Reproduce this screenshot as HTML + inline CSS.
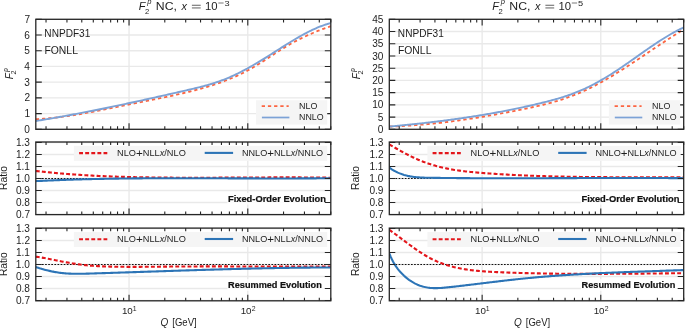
<!DOCTYPE html>
<html><head><meta charset="utf-8"><style>
html,body{margin:0;padding:0;background:#fff;}
body{width:685px;height:328px;overflow:hidden;}
</style></head><body>
<svg width="685" height="328" viewBox="0 0 685 328" style="display:block;will-change:transform">
<rect width="685" height="328" fill="#fff"/>
<g style="font-family:'Liberation Sans', sans-serif;font-kerning:none">
<clipPath id="clipLtop"><rect x="35.80" y="19.30" width="295.00" height="110.00"/></clipPath>
<path d="M35.80,129.30H330.80 M35.80,113.59H330.80 M35.80,97.87H330.80 M35.80,82.16H330.80 M35.80,66.44H330.80 M35.80,50.73H330.80 M35.80,35.01H330.80 M35.80,19.30H330.80 M129.04,19.30V129.30 M247.79,19.30V129.30" stroke="#e9e9e9" stroke-width="1.35" fill="none"/>
<g clip-path="url(#clipLtop)">
<path d="M35.80,119.17 L37.03,119.11 L38.27,119.05 L39.50,118.98 L40.74,118.91 L41.97,118.83 L43.21,118.75 L44.44,118.66 L45.67,118.56 L46.91,118.46 L48.14,118.35 L49.38,118.24 L50.61,118.12 L51.85,118.00 L53.08,117.88 L54.31,117.74 L55.55,117.61 L56.78,117.47 L58.02,117.32 L59.25,117.17 L60.49,117.02 L61.72,116.86 L62.95,116.70 L64.19,116.53 L65.42,116.36 L66.66,116.18 L67.89,116.01 L69.13,115.82 L70.36,115.64 L71.59,115.45 L72.83,115.26 L74.06,115.06 L75.30,114.86 L76.53,114.66 L77.77,114.45 L79.00,114.24 L80.24,114.03 L81.47,113.82 L82.70,113.60 L83.94,113.38 L85.17,113.16 L86.41,112.94 L87.64,112.71 L88.88,112.48 L90.11,112.25 L91.34,112.02 L92.58,111.79 L93.81,111.55 L95.05,111.31 L96.28,111.07 L97.52,110.83 L98.75,110.59 L99.98,110.35 L101.22,110.10 L102.45,109.86 L103.69,109.61 L104.92,109.36 L106.16,109.11 L107.39,108.86 L108.62,108.61 L109.86,108.36 L111.09,108.11 L112.33,107.86 L113.56,107.61 L114.80,107.35 L116.03,107.10 L117.26,106.85 L118.50,106.60 L119.73,106.35 L120.97,106.09 L122.20,105.84 L123.44,105.59 L124.67,105.34 L125.90,105.09 L127.14,104.84 L128.37,104.59 L129.61,104.35 L130.84,104.10 L132.08,103.85 L133.31,103.61 L134.54,103.36 L135.78,103.11 L137.01,102.87 L138.25,102.62 L139.48,102.38 L140.72,102.13 L141.95,101.89 L143.18,101.64 L144.42,101.40 L145.65,101.15 L146.89,100.91 L148.12,100.66 L149.36,100.41 L150.59,100.17 L151.83,99.92 L153.06,99.67 L154.29,99.42 L155.53,99.17 L156.76,98.92 L158.00,98.67 L159.23,98.41 L160.47,98.16 L161.70,97.90 L162.93,97.64 L164.17,97.38 L165.40,97.12 L166.64,96.86 L167.87,96.60 L169.11,96.33 L170.34,96.06 L171.57,95.80 L172.81,95.52 L174.04,95.25 L175.28,94.98 L176.51,94.70 L177.75,94.42 L178.98,94.14 L180.21,93.85 L181.45,93.57 L182.68,93.28 L183.92,92.99 L185.15,92.69 L186.39,92.39 L187.62,92.09 L188.85,91.79 L190.09,91.49 L191.32,91.18 L192.56,90.86 L193.79,90.55 L195.03,90.23 L196.26,89.91 L197.49,89.58 L198.73,89.25 L199.96,88.91 L201.20,88.57 L202.43,88.23 L203.67,87.88 L204.90,87.52 L206.13,87.16 L207.37,86.80 L208.60,86.43 L209.84,86.05 L211.07,85.66 L212.31,85.27 L213.54,84.88 L214.77,84.47 L216.01,84.06 L217.24,83.64 L218.48,83.22 L219.71,82.79 L220.95,82.35 L222.18,81.90 L223.42,81.44 L224.65,80.98 L225.88,80.50 L227.12,80.02 L228.35,79.53 L229.59,79.03 L230.82,78.52 L232.06,78.00 L233.29,77.47 L234.52,76.93 L235.76,76.38 L236.99,75.82 L238.23,75.25 L239.46,74.67 L240.70,74.07 L241.93,73.47 L243.16,72.85 L244.40,72.23 L245.63,71.59 L246.87,70.94 L248.10,70.28 L249.34,69.60 L250.57,68.91 L251.80,68.21 L253.04,67.50 L254.27,66.77 L255.51,66.03 L256.74,65.28 L257.98,64.52 L259.21,63.75 L260.44,62.97 L261.68,62.19 L262.91,61.40 L264.15,60.60 L265.38,59.80 L266.62,58.99 L267.85,58.18 L269.08,57.37 L270.32,56.56 L271.55,55.75 L272.79,54.94 L274.02,54.13 L275.26,53.33 L276.49,52.53 L277.72,51.73 L278.96,50.95 L280.19,50.16 L281.43,49.39 L282.66,48.62 L283.90,47.87 L285.13,47.12 L286.36,46.39 L287.60,45.66 L288.83,44.95 L290.07,44.25 L291.30,43.56 L292.54,42.87 L293.77,42.20 L295.01,41.54 L296.24,40.89 L297.47,40.25 L298.71,39.61 L299.94,38.99 L301.18,38.38 L302.41,37.77 L303.65,37.17 L304.88,36.59 L306.11,36.01 L307.35,35.44 L308.58,34.88 L309.82,34.33 L311.05,33.79 L312.29,33.25 L313.52,32.73 L314.75,32.21 L315.99,31.70 L317.22,31.20 L318.46,30.70 L319.69,30.21 L320.93,29.74 L322.16,29.26 L323.39,28.80 L324.63,28.34 L325.86,27.89 L327.10,27.45 L328.33,27.01 L329.57,26.58 L330.80,26.16" stroke="#fc6542" stroke-width="1.85" fill="none" stroke-dasharray="3.3 2.9"/>
<path d="M35.80,121.03 L37.03,120.83 L38.27,120.62 L39.50,120.42 L40.74,120.22 L41.97,120.01 L43.21,119.80 L44.44,119.60 L45.67,119.39 L46.91,119.18 L48.14,118.97 L49.38,118.75 L50.61,118.54 L51.85,118.33 L53.08,118.11 L54.31,117.89 L55.55,117.68 L56.78,117.46 L58.02,117.24 L59.25,117.02 L60.49,116.80 L61.72,116.57 L62.95,116.35 L64.19,116.13 L65.42,115.90 L66.66,115.67 L67.89,115.45 L69.13,115.22 L70.36,114.99 L71.59,114.76 L72.83,114.53 L74.06,114.30 L75.30,114.06 L76.53,113.83 L77.77,113.59 L79.00,113.36 L80.24,113.12 L81.47,112.88 L82.70,112.64 L83.94,112.41 L85.17,112.16 L86.41,111.92 L87.64,111.68 L88.88,111.44 L90.11,111.20 L91.34,110.95 L92.58,110.71 L93.81,110.46 L95.05,110.21 L96.28,109.97 L97.52,109.72 L98.75,109.47 L99.98,109.22 L101.22,108.97 L102.45,108.72 L103.69,108.46 L104.92,108.21 L106.16,107.96 L107.39,107.70 L108.62,107.45 L109.86,107.19 L111.09,106.94 L112.33,106.68 L113.56,106.42 L114.80,106.16 L116.03,105.90 L117.26,105.64 L118.50,105.38 L119.73,105.12 L120.97,104.86 L122.20,104.60 L123.44,104.34 L124.67,104.07 L125.90,103.81 L127.14,103.54 L128.37,103.28 L129.61,103.01 L130.84,102.75 L132.08,102.48 L133.31,102.21 L134.54,101.95 L135.78,101.68 L137.01,101.41 L138.25,101.14 L139.48,100.87 L140.72,100.60 L141.95,100.33 L143.18,100.06 L144.42,99.78 L145.65,99.51 L146.89,99.24 L148.12,98.96 L149.36,98.69 L150.59,98.42 L151.83,98.14 L153.06,97.87 L154.29,97.59 L155.53,97.32 L156.76,97.04 L158.00,96.76 L159.23,96.48 L160.47,96.21 L161.70,95.93 L162.93,95.65 L164.17,95.37 L165.40,95.09 L166.64,94.81 L167.87,94.54 L169.11,94.26 L170.34,93.98 L171.57,93.69 L172.81,93.41 L174.04,93.13 L175.28,92.85 L176.51,92.57 L177.75,92.29 L178.98,92.01 L180.21,91.72 L181.45,91.44 L182.68,91.16 L183.92,90.88 L185.15,90.59 L186.39,90.31 L187.62,90.02 L188.85,89.74 L190.09,89.45 L191.32,89.16 L192.56,88.87 L193.79,88.58 L195.03,88.29 L196.26,87.99 L197.49,87.68 L198.73,87.38 L199.96,87.06 L201.20,86.75 L202.43,86.43 L203.67,86.10 L204.90,85.77 L206.13,85.43 L207.37,85.08 L208.60,84.73 L209.84,84.36 L211.07,84.00 L212.31,83.62 L213.54,83.23 L214.77,82.84 L216.01,82.43 L217.24,82.02 L218.48,81.59 L219.71,81.16 L220.95,80.71 L222.18,80.26 L223.42,79.79 L224.65,79.31 L225.88,78.81 L227.12,78.31 L228.35,77.79 L229.59,77.26 L230.82,76.72 L232.06,76.16 L233.29,75.60 L234.52,75.02 L235.76,74.44 L236.99,73.84 L238.23,73.24 L239.46,72.62 L240.70,71.99 L241.93,71.36 L243.16,70.71 L244.40,70.06 L245.63,69.40 L246.87,68.73 L248.10,68.05 L249.34,67.36 L250.57,66.67 L251.80,65.97 L253.04,65.26 L254.27,64.54 L255.51,63.82 L256.74,63.09 L257.98,62.36 L259.21,61.62 L260.44,60.87 L261.68,60.12 L262.91,59.36 L264.15,58.60 L265.38,57.84 L266.62,57.07 L267.85,56.29 L269.08,55.52 L270.32,54.74 L271.55,53.95 L272.79,53.17 L274.02,52.38 L275.26,51.60 L276.49,50.81 L277.72,50.02 L278.96,49.24 L280.19,48.45 L281.43,47.67 L282.66,46.89 L283.90,46.11 L285.13,45.33 L286.36,44.56 L287.60,43.79 L288.83,43.02 L290.07,42.26 L291.30,41.51 L292.54,40.76 L293.77,40.02 L295.01,39.28 L296.24,38.55 L297.47,37.83 L298.71,37.12 L299.94,36.42 L301.18,35.72 L302.41,35.04 L303.65,34.36 L304.88,33.70 L306.11,33.04 L307.35,32.40 L308.58,31.77 L309.82,31.15 L311.05,30.55 L312.29,29.96 L313.52,29.38 L314.75,28.82 L315.99,28.27 L317.22,27.74 L318.46,27.22 L319.69,26.72 L320.93,26.24 L322.16,25.77 L323.39,25.32 L324.63,24.89 L325.86,24.48 L327.10,24.09 L328.33,23.72 L329.57,23.37 L330.80,23.03" stroke="#7ca2d6" stroke-width="1.9" fill="none"/>
</g>
<path d="M35.80,129.30h6.0 M330.80,129.30h-6.0 M35.80,113.59h6.0 M330.80,113.59h-6.0 M35.80,97.87h6.0 M330.80,97.87h-6.0 M35.80,82.16h6.0 M330.80,82.16h-6.0 M35.80,66.44h6.0 M330.80,66.44h-6.0 M35.80,50.73h6.0 M330.80,50.73h-6.0 M35.80,35.01h6.0 M330.80,35.01h-6.0 M35.80,19.30h6.0 M330.80,19.30h-6.0 M46.03,129.30v-3.1 M46.03,19.30v3.1 M66.95,129.30v-3.1 M66.95,19.30v3.1 M81.78,129.30v-3.1 M81.78,19.30v3.1 M93.29,129.30v-3.1 M93.29,19.30v3.1 M102.70,129.30v-3.1 M102.70,19.30v3.1 M110.65,129.30v-3.1 M110.65,19.30v3.1 M117.53,129.30v-3.1 M117.53,19.30v3.1 M123.61,129.30v-3.1 M123.61,19.30v3.1 M129.04,129.30v-6.1 M129.04,19.30v6.1 M164.79,129.30v-3.1 M164.79,19.30v3.1 M185.70,129.30v-3.1 M185.70,19.30v3.1 M200.54,129.30v-3.1 M200.54,19.30v3.1 M212.05,129.30v-3.1 M212.05,19.30v3.1 M221.45,129.30v-3.1 M221.45,19.30v3.1 M229.40,129.30v-3.1 M229.40,19.30v3.1 M236.29,129.30v-3.1 M236.29,19.30v3.1 M242.36,129.30v-3.1 M242.36,19.30v3.1 M247.79,129.30v-6.1 M247.79,19.30v6.1 M283.54,129.30v-3.1 M283.54,19.30v3.1 M304.45,129.30v-3.1 M304.45,19.30v3.1 M319.29,129.30v-3.1 M319.29,19.30v3.1 M330.80,129.30v-3.1 M330.80,19.30v3.1" stroke="#262626" stroke-width="1.1" fill="none"/>
<rect x="35.80" y="19.30" width="295.00" height="110.00" stroke="#262626" stroke-width="1.3" fill="none"/>
<rect x="256.00" y="100.2" width="71.2" height="24.4" fill="#f5f5f5"/>
<path d="M261.70,106.2h27" stroke="#fc6542" stroke-width="1.7" stroke-dasharray="3.3 2.9"/>
<path d="M261.90,117.5h27.5" stroke="#7ca2d6" stroke-width="1.7"/>
<text x="299.07" y="109.00" textLength="18.36" lengthAdjust="spacingAndGlyphs" fill="#1e1e1e"><tspan font-size="8.8">NLO</tspan></text>
<text x="299.08" y="120.40" textLength="24.55" lengthAdjust="spacingAndGlyphs" fill="#1e1e1e"><tspan font-size="8.8">NNLO</tspan></text>
<text x="44.37" y="37.40" textLength="45.92" lengthAdjust="spacingAndGlyphs" fill="#1e1e1e"><tspan font-size="10.3">NNPDF31</tspan></text>
<text x="44.45" y="53.60" textLength="33.50" lengthAdjust="spacingAndGlyphs" fill="#1e1e1e"><tspan font-size="10.3">FONLL</tspan></text>
<text x="24.28" y="132.85" fill="#1e1e1e"><tspan font-size="10.1">0</tspan></text>
<text x="24.38" y="117.14" fill="#1e1e1e"><tspan font-size="10.1">1</tspan></text>
<text x="24.39" y="101.42" fill="#1e1e1e"><tspan font-size="10.1">2</tspan></text>
<text x="24.33" y="85.71" fill="#1e1e1e"><tspan font-size="10.1">3</tspan></text>
<text x="24.18" y="69.99" fill="#1e1e1e"><tspan font-size="10.1">4</tspan></text>
<text x="24.31" y="54.28" fill="#1e1e1e"><tspan font-size="10.1">5</tspan></text>
<text x="24.33" y="38.56" fill="#1e1e1e"><tspan font-size="10.1">6</tspan></text>
<text x="24.39" y="22.85" fill="#1e1e1e"><tspan font-size="10.1">7</tspan></text>
<clipPath id="clipLr1"><rect x="35.80" y="142.00" width="295.00" height="72.60"/></clipPath>
<path d="M35.80,214.50H330.80 M35.80,202.50H330.80 M35.80,190.50H330.80 M35.80,178.50H330.80 M35.80,166.50H330.80 M35.80,154.50H330.80 M35.80,142.50H330.80 M129.04,142.00V214.60 M247.79,142.00V214.60" stroke="#e9e9e9" stroke-width="1.35" fill="none"/>
<rect x="227.30" y="193.00" width="102.50" height="11.6" fill="#fff" fill-opacity="0.85"/>
<g clip-path="url(#clipLr1)">
<path d="M35.80,178.50H330.80" stroke="#111" stroke-width="1.1" stroke-dasharray="1.7 1.4"/>
<path d="M35.80,170.96 L37.03,171.10 L38.27,171.24 L39.50,171.38 L40.74,171.51 L41.97,171.65 L43.21,171.78 L44.44,171.91 L45.67,172.04 L46.91,172.16 L48.14,172.29 L49.38,172.41 L50.61,172.53 L51.85,172.65 L53.08,172.76 L54.31,172.88 L55.55,172.99 L56.78,173.10 L58.02,173.21 L59.25,173.32 L60.49,173.43 L61.72,173.53 L62.95,173.63 L64.19,173.73 L65.42,173.83 L66.66,173.93 L67.89,174.03 L69.13,174.12 L70.36,174.21 L71.59,174.31 L72.83,174.40 L74.06,174.48 L75.30,174.57 L76.53,174.65 L77.77,174.74 L79.00,174.82 L80.24,174.90 L81.47,174.98 L82.70,175.06 L83.94,175.13 L85.17,175.21 L86.41,175.28 L87.64,175.35 L88.88,175.42 L90.11,175.49 L91.34,175.56 L92.58,175.62 L93.81,175.69 L95.05,175.75 L96.28,175.81 L97.52,175.88 L98.75,175.94 L99.98,175.99 L101.22,176.05 L102.45,176.11 L103.69,176.16 L104.92,176.21 L106.16,176.27 L107.39,176.32 L108.62,176.37 L109.86,176.42 L111.09,176.46 L112.33,176.51 L113.56,176.55 L114.80,176.60 L116.03,176.64 L117.26,176.68 L118.50,176.72 L119.73,176.76 L120.97,176.80 L122.20,176.84 L123.44,176.88 L124.67,176.91 L125.90,176.95 L127.14,176.98 L128.37,177.01 L129.61,177.05 L130.84,177.08 L132.08,177.11 L133.31,177.14 L134.54,177.16 L135.78,177.19 L137.01,177.22 L138.25,177.24 L139.48,177.27 L140.72,177.29 L141.95,177.32 L143.18,177.34 L144.42,177.36 L145.65,177.38 L146.89,177.40 L148.12,177.42 L149.36,177.44 L150.59,177.46 L151.83,177.48 L153.06,177.49 L154.29,177.51 L155.53,177.52 L156.76,177.54 L158.00,177.55 L159.23,177.57 L160.47,177.58 L161.70,177.59 L162.93,177.60 L164.17,177.62 L165.40,177.63 L166.64,177.64 L167.87,177.65 L169.11,177.65 L170.34,177.66 L171.57,177.67 L172.81,177.68 L174.04,177.68 L175.28,177.69 L176.51,177.70 L177.75,177.70 L178.98,177.71 L180.21,177.71 L181.45,177.71 L182.68,177.72 L183.92,177.72 L185.15,177.72 L186.39,177.73 L187.62,177.73 L188.85,177.73 L190.09,177.73 L191.32,177.73 L192.56,177.73 L193.79,177.73 L195.03,177.73 L196.26,177.73 L197.49,177.73 L198.73,177.73 L199.96,177.72 L201.20,177.72 L202.43,177.72 L203.67,177.72 L204.90,177.71 L206.13,177.71 L207.37,177.71 L208.60,177.70 L209.84,177.70 L211.07,177.70 L212.31,177.69 L213.54,177.69 L214.77,177.68 L216.01,177.68 L217.24,177.67 L218.48,177.67 L219.71,177.66 L220.95,177.66 L222.18,177.65 L223.42,177.64 L224.65,177.64 L225.88,177.63 L227.12,177.63 L228.35,177.62 L229.59,177.61 L230.82,177.61 L232.06,177.60 L233.29,177.59 L234.52,177.59 L235.76,177.58 L236.99,177.57 L238.23,177.57 L239.46,177.56 L240.70,177.55 L241.93,177.55 L243.16,177.54 L244.40,177.53 L245.63,177.53 L246.87,177.52 L248.10,177.51 L249.34,177.51 L250.57,177.50 L251.80,177.49 L253.04,177.49 L254.27,177.48 L255.51,177.48 L256.74,177.47 L257.98,177.46 L259.21,177.46 L260.44,177.45 L261.68,177.45 L262.91,177.44 L264.15,177.44 L265.38,177.43 L266.62,177.43 L267.85,177.43 L269.08,177.42 L270.32,177.42 L271.55,177.41 L272.79,177.41 L274.02,177.41 L275.26,177.41 L276.49,177.40 L277.72,177.40 L278.96,177.40 L280.19,177.40 L281.43,177.40 L282.66,177.40 L283.90,177.39 L285.13,177.39 L286.36,177.39 L287.60,177.40 L288.83,177.40 L290.07,177.40 L291.30,177.40 L292.54,177.40 L293.77,177.40 L295.01,177.41 L296.24,177.41 L297.47,177.41 L298.71,177.42 L299.94,177.42 L301.18,177.43 L302.41,177.43 L303.65,177.44 L304.88,177.45 L306.11,177.45 L307.35,177.46 L308.58,177.47 L309.82,177.48 L311.05,177.49 L312.29,177.50 L313.52,177.51 L314.75,177.52 L315.99,177.53 L317.22,177.54 L318.46,177.56 L319.69,177.57 L320.93,177.58 L322.16,177.60 L323.39,177.61 L324.63,177.63 L325.86,177.65 L327.10,177.66 L328.33,177.68 L329.57,177.70 L330.80,177.72" stroke="#e3161b" stroke-width="2.1" fill="none" stroke-dasharray="3.9 2.2"/>
<path d="M35.80,181.13 L37.03,181.07 L38.27,181.01 L39.50,180.95 L40.74,180.89 L41.97,180.83 L43.21,180.77 L44.44,180.71 L45.67,180.66 L46.91,180.60 L48.14,180.55 L49.38,180.49 L50.61,180.44 L51.85,180.39 L53.08,180.34 L54.31,180.28 L55.55,180.23 L56.78,180.19 L58.02,180.14 L59.25,180.09 L60.49,180.04 L61.72,180.00 L62.95,179.95 L64.19,179.91 L65.42,179.86 L66.66,179.82 L67.89,179.78 L69.13,179.73 L70.36,179.69 L71.59,179.65 L72.83,179.61 L74.06,179.57 L75.30,179.54 L76.53,179.50 L77.77,179.46 L79.00,179.42 L80.24,179.39 L81.47,179.35 L82.70,179.32 L83.94,179.29 L85.17,179.25 L86.41,179.22 L87.64,179.19 L88.88,179.16 L90.11,179.13 L91.34,179.10 L92.58,179.07 L93.81,179.04 L95.05,179.01 L96.28,178.98 L97.52,178.96 L98.75,178.93 L99.98,178.90 L101.22,178.88 L102.45,178.85 L103.69,178.83 L104.92,178.81 L106.16,178.78 L107.39,178.76 L108.62,178.74 L109.86,178.72 L111.09,178.70 L112.33,178.68 L113.56,178.66 L114.80,178.64 L116.03,178.62 L117.26,178.60 L118.50,178.58 L119.73,178.57 L120.97,178.55 L122.20,178.53 L123.44,178.52 L124.67,178.50 L125.90,178.49 L127.14,178.47 L128.37,178.46 L129.61,178.44 L130.84,178.43 L132.08,178.42 L133.31,178.41 L134.54,178.39 L135.78,178.38 L137.01,178.37 L138.25,178.36 L139.48,178.35 L140.72,178.34 L141.95,178.33 L143.18,178.32 L144.42,178.31 L145.65,178.31 L146.89,178.30 L148.12,178.29 L149.36,178.28 L150.59,178.28 L151.83,178.27 L153.06,178.26 L154.29,178.26 L155.53,178.25 L156.76,178.25 L158.00,178.24 L159.23,178.24 L160.47,178.24 L161.70,178.23 L162.93,178.23 L164.17,178.22 L165.40,178.22 L166.64,178.22 L167.87,178.22 L169.11,178.21 L170.34,178.21 L171.57,178.21 L172.81,178.21 L174.04,178.21 L175.28,178.21 L176.51,178.21 L177.75,178.21 L178.98,178.21 L180.21,178.21 L181.45,178.21 L182.68,178.21 L183.92,178.21 L185.15,178.21 L186.39,178.21 L187.62,178.21 L188.85,178.21 L190.09,178.21 L191.32,178.22 L192.56,178.22 L193.79,178.22 L195.03,178.22 L196.26,178.23 L197.49,178.23 L198.73,178.23 L199.96,178.23 L201.20,178.24 L202.43,178.24 L203.67,178.24 L204.90,178.25 L206.13,178.25 L207.37,178.25 L208.60,178.26 L209.84,178.26 L211.07,178.26 L212.31,178.27 L213.54,178.27 L214.77,178.28 L216.01,178.28 L217.24,178.29 L218.48,178.29 L219.71,178.29 L220.95,178.30 L222.18,178.30 L223.42,178.31 L224.65,178.31 L225.88,178.32 L227.12,178.32 L228.35,178.33 L229.59,178.33 L230.82,178.33 L232.06,178.34 L233.29,178.34 L234.52,178.35 L235.76,178.35 L236.99,178.36 L238.23,178.36 L239.46,178.37 L240.70,178.37 L241.93,178.37 L243.16,178.38 L244.40,178.38 L245.63,178.39 L246.87,178.39 L248.10,178.39 L249.34,178.40 L250.57,178.40 L251.80,178.41 L253.04,178.41 L254.27,178.41 L255.51,178.42 L256.74,178.42 L257.98,178.42 L259.21,178.42 L260.44,178.43 L261.68,178.43 L262.91,178.43 L264.15,178.44 L265.38,178.44 L266.62,178.44 L267.85,178.44 L269.08,178.44 L270.32,178.45 L271.55,178.45 L272.79,178.45 L274.02,178.45 L275.26,178.45 L276.49,178.45 L277.72,178.45 L278.96,178.45 L280.19,178.45 L281.43,178.45 L282.66,178.45 L283.90,178.45 L285.13,178.45 L286.36,178.45 L287.60,178.45 L288.83,178.44 L290.07,178.44 L291.30,178.44 L292.54,178.44 L293.77,178.43 L295.01,178.43 L296.24,178.43 L297.47,178.42 L298.71,178.42 L299.94,178.42 L301.18,178.41 L302.41,178.41 L303.65,178.40 L304.88,178.40 L306.11,178.39 L307.35,178.38 L308.58,178.38 L309.82,178.37 L311.05,178.36 L312.29,178.36 L313.52,178.35 L314.75,178.34 L315.99,178.33 L317.22,178.32 L318.46,178.31 L319.69,178.30 L320.93,178.29 L322.16,178.28 L323.39,178.27 L324.63,178.26 L325.86,178.25 L327.10,178.23 L328.33,178.22 L329.57,178.21 L330.80,178.19" stroke="#2c74b6" stroke-width="2.1" fill="none"/>
</g>
<path d="M35.80,214.50h6.0 M330.80,214.50h-6.0 M35.80,202.50h6.0 M330.80,202.50h-6.0 M35.80,190.50h6.0 M330.80,190.50h-6.0 M35.80,178.50h6.0 M330.80,178.50h-6.0 M35.80,166.50h6.0 M330.80,166.50h-6.0 M35.80,154.50h6.0 M330.80,154.50h-6.0 M35.80,142.50h6.0 M330.80,142.50h-6.0 M46.03,214.60v-3.1 M46.03,142.00v3.1 M66.95,214.60v-3.1 M66.95,142.00v3.1 M81.78,214.60v-3.1 M81.78,142.00v3.1 M93.29,214.60v-3.1 M93.29,142.00v3.1 M102.70,214.60v-3.1 M102.70,142.00v3.1 M110.65,214.60v-3.1 M110.65,142.00v3.1 M117.53,214.60v-3.1 M117.53,142.00v3.1 M123.61,214.60v-3.1 M123.61,142.00v3.1 M129.04,214.60v-6.1 M129.04,142.00v6.1 M164.79,214.60v-3.1 M164.79,142.00v3.1 M185.70,214.60v-3.1 M185.70,142.00v3.1 M200.54,214.60v-3.1 M200.54,142.00v3.1 M212.05,214.60v-3.1 M212.05,142.00v3.1 M221.45,214.60v-3.1 M221.45,142.00v3.1 M229.40,214.60v-3.1 M229.40,142.00v3.1 M236.29,214.60v-3.1 M236.29,142.00v3.1 M242.36,214.60v-3.1 M242.36,142.00v3.1 M247.79,214.60v-6.1 M247.79,142.00v6.1 M283.54,214.60v-3.1 M283.54,142.00v3.1 M304.45,214.60v-3.1 M304.45,142.00v3.1 M319.29,214.60v-3.1 M319.29,142.00v3.1 M330.80,214.60v-3.1 M330.80,142.00v3.1" stroke="#262626" stroke-width="1.1" fill="none"/>
<rect x="35.80" y="142.00" width="295.00" height="72.60" stroke="#262626" stroke-width="1.3" fill="none"/>
<rect x="73.90" y="145.90" width="253.3" height="15.0" fill="#f5f5f5"/>
<path d="M79.10,153.10h28.2" stroke="#e3161b" stroke-width="2.1" stroke-dasharray="3.9 2.2"/>
<path d="M204.70,152.90h28.4" stroke="#2c74b6" stroke-width="2.1"/>
<text x="117.04" y="155.80" textLength="68.80" lengthAdjust="spacingAndGlyphs" fill="#1e1e1e"><tspan font-size="8.4">NLO</tspan><tspan font-size="10.6" dy="1.10">+</tspan><tspan font-size="8.4" dy="-1.10">NLL</tspan><tspan font-style="italic" font-size="8.4">x</tspan><tspan font-size="8.4">/NLO</tspan></text>
<text x="241.95" y="155.80" textLength="81.18" lengthAdjust="spacingAndGlyphs" fill="#1e1e1e"><tspan font-size="8.4">NNLO</tspan><tspan font-size="10.6" dy="1.10">+</tspan><tspan font-size="8.4" dy="-1.10">NLL</tspan><tspan font-style="italic" font-size="8.4">x</tspan><tspan font-size="8.4">/NNLO</tspan></text>
<text x="227.98" y="202.00" textLength="97.90" lengthAdjust="spacingAndGlyphs" fill="#111" stroke="#111" stroke-width="0.22"><tspan font-weight="bold" font-size="9.3">Fixed-Order Evolution</tspan></text>
<text x="15.97" y="218.05" fill="#1e1e1e"><tspan font-size="10.1">0.7</tspan></text>
<text x="15.90" y="206.05" fill="#1e1e1e"><tspan font-size="10.1">0.8</tspan></text>
<text x="15.94" y="194.05" fill="#1e1e1e"><tspan font-size="10.1">0.9</tspan></text>
<text x="15.85" y="182.05" fill="#1e1e1e"><tspan font-size="10.1">1.0</tspan></text>
<text x="15.95" y="170.05" fill="#1e1e1e"><tspan font-size="10.1">1.1</tspan></text>
<text x="15.97" y="158.05" fill="#1e1e1e"><tspan font-size="10.1">1.2</tspan></text>
<text x="15.90" y="146.05" fill="#1e1e1e"><tspan font-size="10.1">1.3</tspan></text>
<clipPath id="clipLr2"><rect x="35.80" y="228.10" width="295.00" height="72.70"/></clipPath>
<path d="M35.80,300.50H330.80 M35.80,288.50H330.80 M35.80,276.50H330.80 M35.80,264.50H330.80 M35.80,252.50H330.80 M35.80,240.50H330.80 M35.80,228.50H330.80 M129.04,228.10V300.80 M247.79,228.10V300.80" stroke="#e9e9e9" stroke-width="1.35" fill="none"/>
<rect x="227.30" y="279.20" width="102.50" height="11.6" fill="#fff" fill-opacity="0.85"/>
<g clip-path="url(#clipLr2)">
<path d="M35.80,264.50H330.80" stroke="#111" stroke-width="1.1" stroke-dasharray="1.7 1.4"/>
<path d="M35.80,256.69 L37.03,256.86 L38.27,257.05 L39.50,257.24 L40.74,257.44 L41.97,257.65 L43.21,257.86 L44.44,258.08 L45.67,258.30 L46.91,258.53 L48.14,258.76 L49.38,259.00 L50.61,259.24 L51.85,259.48 L53.08,259.72 L54.31,259.96 L55.55,260.21 L56.78,260.45 L58.02,260.70 L59.25,260.94 L60.49,261.18 L61.72,261.42 L62.95,261.66 L64.19,261.90 L65.42,262.13 L66.66,262.36 L67.89,262.58 L69.13,262.80 L70.36,263.01 L71.59,263.22 L72.83,263.43 L74.06,263.62 L75.30,263.82 L76.53,264.00 L77.77,264.18 L79.00,264.36 L80.24,264.53 L81.47,264.69 L82.70,264.84 L83.94,264.98 L85.17,265.12 L86.41,265.25 L87.64,265.37 L88.88,265.49 L90.11,265.59 L91.34,265.69 L92.58,265.79 L93.81,265.88 L95.05,265.96 L96.28,266.03 L97.52,266.10 L98.75,266.17 L99.98,266.23 L101.22,266.29 L102.45,266.34 L103.69,266.39 L104.92,266.43 L106.16,266.47 L107.39,266.51 L108.62,266.54 L109.86,266.58 L111.09,266.61 L112.33,266.64 L113.56,266.66 L114.80,266.69 L116.03,266.71 L117.26,266.73 L118.50,266.75 L119.73,266.77 L120.97,266.78 L122.20,266.79 L123.44,266.81 L124.67,266.82 L125.90,266.83 L127.14,266.83 L128.37,266.84 L129.61,266.84 L130.84,266.85 L132.08,266.85 L133.31,266.85 L134.54,266.85 L135.78,266.85 L137.01,266.84 L138.25,266.84 L139.48,266.84 L140.72,266.83 L141.95,266.82 L143.18,266.82 L144.42,266.81 L145.65,266.80 L146.89,266.79 L148.12,266.78 L149.36,266.77 L150.59,266.76 L151.83,266.75 L153.06,266.74 L154.29,266.73 L155.53,266.71 L156.76,266.70 L158.00,266.69 L159.23,266.68 L160.47,266.67 L161.70,266.65 L162.93,266.64 L164.17,266.63 L165.40,266.62 L166.64,266.60 L167.87,266.59 L169.11,266.58 L170.34,266.57 L171.57,266.56 L172.81,266.55 L174.04,266.54 L175.28,266.53 L176.51,266.52 L177.75,266.51 L178.98,266.51 L180.21,266.50 L181.45,266.49 L182.68,266.48 L183.92,266.48 L185.15,266.47 L186.39,266.46 L187.62,266.46 L188.85,266.45 L190.09,266.45 L191.32,266.44 L192.56,266.44 L193.79,266.44 L195.03,266.43 L196.26,266.43 L197.49,266.43 L198.73,266.42 L199.96,266.42 L201.20,266.42 L202.43,266.42 L203.67,266.41 L204.90,266.41 L206.13,266.41 L207.37,266.41 L208.60,266.41 L209.84,266.41 L211.07,266.41 L212.31,266.41 L213.54,266.41 L214.77,266.41 L216.01,266.41 L217.24,266.41 L218.48,266.41 L219.71,266.41 L220.95,266.41 L222.18,266.42 L223.42,266.42 L224.65,266.42 L225.88,266.42 L227.12,266.42 L228.35,266.42 L229.59,266.43 L230.82,266.43 L232.06,266.43 L233.29,266.43 L234.52,266.44 L235.76,266.44 L236.99,266.44 L238.23,266.45 L239.46,266.45 L240.70,266.45 L241.93,266.45 L243.16,266.46 L244.40,266.46 L245.63,266.46 L246.87,266.47 L248.10,266.47 L249.34,266.48 L250.57,266.48 L251.80,266.48 L253.04,266.49 L254.27,266.49 L255.51,266.49 L256.74,266.50 L257.98,266.50 L259.21,266.50 L260.44,266.51 L261.68,266.51 L262.91,266.51 L264.15,266.52 L265.38,266.52 L266.62,266.52 L267.85,266.53 L269.08,266.53 L270.32,266.53 L271.55,266.54 L272.79,266.54 L274.02,266.54 L275.26,266.54 L276.49,266.55 L277.72,266.55 L278.96,266.55 L280.19,266.55 L281.43,266.56 L282.66,266.56 L283.90,266.56 L285.13,266.56 L286.36,266.56 L287.60,266.57 L288.83,266.57 L290.07,266.57 L291.30,266.57 L292.54,266.57 L293.77,266.57 L295.01,266.57 L296.24,266.57 L297.47,266.57 L298.71,266.57 L299.94,266.57 L301.18,266.57 L302.41,266.57 L303.65,266.57 L304.88,266.56 L306.11,266.56 L307.35,266.56 L308.58,266.56 L309.82,266.56 L311.05,266.55 L312.29,266.55 L313.52,266.55 L314.75,266.54 L315.99,266.54 L317.22,266.53 L318.46,266.53 L319.69,266.52 L320.93,266.52 L322.16,266.51 L323.39,266.51 L324.63,266.50 L325.86,266.49 L327.10,266.49 L328.33,266.48 L329.57,266.47 L330.80,266.46" stroke="#e3161b" stroke-width="2.1" fill="none" stroke-dasharray="3.9 2.2"/>
<path d="M35.80,267.00 L37.03,267.42 L38.27,267.82 L39.50,268.22 L40.74,268.59 L41.97,268.96 L43.21,269.31 L44.44,269.65 L45.67,269.98 L46.91,270.29 L48.14,270.59 L49.38,270.88 L50.61,271.15 L51.85,271.41 L53.08,271.65 L54.31,271.89 L55.55,272.10 L56.78,272.31 L58.02,272.50 L59.25,272.68 L60.49,272.84 L61.72,272.99 L62.95,273.13 L64.19,273.25 L65.42,273.36 L66.66,273.45 L67.89,273.53 L69.13,273.60 L70.36,273.66 L71.59,273.71 L72.83,273.74 L74.06,273.77 L75.30,273.79 L76.53,273.80 L77.77,273.80 L79.00,273.79 L80.24,273.78 L81.47,273.76 L82.70,273.74 L83.94,273.71 L85.17,273.68 L86.41,273.65 L87.64,273.62 L88.88,273.58 L90.11,273.54 L91.34,273.51 L92.58,273.47 L93.81,273.43 L95.05,273.39 L96.28,273.35 L97.52,273.32 L98.75,273.28 L99.98,273.24 L101.22,273.20 L102.45,273.16 L103.69,273.12 L104.92,273.09 L106.16,273.05 L107.39,273.01 L108.62,272.97 L109.86,272.93 L111.09,272.89 L112.33,272.85 L113.56,272.81 L114.80,272.77 L116.03,272.73 L117.26,272.69 L118.50,272.65 L119.73,272.61 L120.97,272.57 L122.20,272.53 L123.44,272.49 L124.67,272.45 L125.90,272.41 L127.14,272.37 L128.37,272.33 L129.61,272.29 L130.84,272.25 L132.08,272.20 L133.31,272.16 L134.54,272.12 L135.78,272.08 L137.01,272.04 L138.25,272.00 L139.48,271.96 L140.72,271.92 L141.95,271.88 L143.18,271.84 L144.42,271.79 L145.65,271.75 L146.89,271.71 L148.12,271.67 L149.36,271.63 L150.59,271.59 L151.83,271.55 L153.06,271.51 L154.29,271.47 L155.53,271.43 L156.76,271.38 L158.00,271.34 L159.23,271.30 L160.47,271.26 L161.70,271.22 L162.93,271.18 L164.17,271.14 L165.40,271.10 L166.64,271.06 L167.87,271.02 L169.11,270.98 L170.34,270.94 L171.57,270.89 L172.81,270.85 L174.04,270.81 L175.28,270.77 L176.51,270.73 L177.75,270.69 L178.98,270.65 L180.21,270.61 L181.45,270.57 L182.68,270.53 L183.92,270.49 L185.15,270.45 L186.39,270.41 L187.62,270.38 L188.85,270.34 L190.09,270.30 L191.32,270.26 L192.56,270.22 L193.79,270.18 L195.03,270.14 L196.26,270.10 L197.49,270.06 L198.73,270.03 L199.96,269.99 L201.20,269.95 L202.43,269.91 L203.67,269.87 L204.90,269.84 L206.13,269.80 L207.37,269.76 L208.60,269.73 L209.84,269.69 L211.07,269.65 L212.31,269.62 L213.54,269.58 L214.77,269.54 L216.01,269.51 L217.24,269.47 L218.48,269.44 L219.71,269.40 L220.95,269.37 L222.18,269.33 L223.42,269.30 L224.65,269.26 L225.88,269.23 L227.12,269.19 L228.35,269.16 L229.59,269.12 L230.82,269.09 L232.06,269.06 L233.29,269.03 L234.52,268.99 L235.76,268.96 L236.99,268.93 L238.23,268.90 L239.46,268.86 L240.70,268.83 L241.93,268.80 L243.16,268.77 L244.40,268.74 L245.63,268.71 L246.87,268.68 L248.10,268.65 L249.34,268.62 L250.57,268.59 L251.80,268.56 L253.04,268.53 L254.27,268.50 L255.51,268.48 L256.74,268.45 L257.98,268.42 L259.21,268.39 L260.44,268.37 L261.68,268.34 L262.91,268.31 L264.15,268.29 L265.38,268.26 L266.62,268.24 L267.85,268.21 L269.08,268.19 L270.32,268.16 L271.55,268.14 L272.79,268.11 L274.02,268.09 L275.26,268.07 L276.49,268.04 L277.72,268.02 L278.96,268.00 L280.19,267.98 L281.43,267.96 L282.66,267.94 L283.90,267.92 L285.13,267.90 L286.36,267.88 L287.60,267.86 L288.83,267.84 L290.07,267.82 L291.30,267.80 L292.54,267.78 L293.77,267.77 L295.01,267.75 L296.24,267.73 L297.47,267.72 L298.71,267.70 L299.94,267.69 L301.18,267.67 L302.41,267.66 L303.65,267.64 L304.88,267.63 L306.11,267.62 L307.35,267.61 L308.58,267.59 L309.82,267.58 L311.05,267.57 L312.29,267.56 L313.52,267.55 L314.75,267.54 L315.99,267.53 L317.22,267.52 L318.46,267.51 L319.69,267.50 L320.93,267.50 L322.16,267.49 L323.39,267.48 L324.63,267.48 L325.86,267.47 L327.10,267.47 L328.33,267.46 L329.57,267.46 L330.80,267.45" stroke="#2c74b6" stroke-width="2.1" fill="none"/>
</g>
<path d="M35.80,300.50h6.0 M330.80,300.50h-6.0 M35.80,288.50h6.0 M330.80,288.50h-6.0 M35.80,276.50h6.0 M330.80,276.50h-6.0 M35.80,264.50h6.0 M330.80,264.50h-6.0 M35.80,252.50h6.0 M330.80,252.50h-6.0 M35.80,240.50h6.0 M330.80,240.50h-6.0 M35.80,228.50h6.0 M330.80,228.50h-6.0 M46.03,300.80v-3.1 M46.03,228.10v3.1 M66.95,300.80v-3.1 M66.95,228.10v3.1 M81.78,300.80v-3.1 M81.78,228.10v3.1 M93.29,300.80v-3.1 M93.29,228.10v3.1 M102.70,300.80v-3.1 M102.70,228.10v3.1 M110.65,300.80v-3.1 M110.65,228.10v3.1 M117.53,300.80v-3.1 M117.53,228.10v3.1 M123.61,300.80v-3.1 M123.61,228.10v3.1 M129.04,300.80v-6.1 M129.04,228.10v6.1 M164.79,300.80v-3.1 M164.79,228.10v3.1 M185.70,300.80v-3.1 M185.70,228.10v3.1 M200.54,300.80v-3.1 M200.54,228.10v3.1 M212.05,300.80v-3.1 M212.05,228.10v3.1 M221.45,300.80v-3.1 M221.45,228.10v3.1 M229.40,300.80v-3.1 M229.40,228.10v3.1 M236.29,300.80v-3.1 M236.29,228.10v3.1 M242.36,300.80v-3.1 M242.36,228.10v3.1 M247.79,300.80v-6.1 M247.79,228.10v6.1 M283.54,300.80v-3.1 M283.54,228.10v3.1 M304.45,300.80v-3.1 M304.45,228.10v3.1 M319.29,300.80v-3.1 M319.29,228.10v3.1 M330.80,300.80v-3.1 M330.80,228.10v3.1" stroke="#262626" stroke-width="1.1" fill="none"/>
<rect x="35.80" y="228.10" width="295.00" height="72.70" stroke="#262626" stroke-width="1.3" fill="none"/>
<rect x="73.90" y="232.00" width="253.3" height="15.0" fill="#f5f5f5"/>
<path d="M79.10,239.20h28.2" stroke="#e3161b" stroke-width="2.1" stroke-dasharray="3.9 2.2"/>
<path d="M204.70,239.00h28.4" stroke="#2c74b6" stroke-width="2.1"/>
<text x="117.04" y="241.90" textLength="68.80" lengthAdjust="spacingAndGlyphs" fill="#1e1e1e"><tspan font-size="8.4">NLO</tspan><tspan font-size="10.6" dy="1.10">+</tspan><tspan font-size="8.4" dy="-1.10">NLL</tspan><tspan font-style="italic" font-size="8.4">x</tspan><tspan font-size="8.4">/NLO</tspan></text>
<text x="241.95" y="241.90" textLength="81.18" lengthAdjust="spacingAndGlyphs" fill="#1e1e1e"><tspan font-size="8.4">NNLO</tspan><tspan font-size="10.6" dy="1.10">+</tspan><tspan font-size="8.4" dy="-1.10">NLL</tspan><tspan font-style="italic" font-size="8.4">x</tspan><tspan font-size="8.4">/NNLO</tspan></text>
<text x="228.09" y="287.50" textLength="93.68" lengthAdjust="spacingAndGlyphs" fill="#111" stroke="#111" stroke-width="0.22"><tspan font-weight="bold" font-size="9.3">Resummed Evolution</tspan></text>
<text x="15.97" y="304.05" fill="#1e1e1e"><tspan font-size="10.1">0.7</tspan></text>
<text x="15.90" y="292.05" fill="#1e1e1e"><tspan font-size="10.1">0.8</tspan></text>
<text x="15.94" y="280.05" fill="#1e1e1e"><tspan font-size="10.1">0.9</tspan></text>
<text x="15.85" y="268.05" fill="#1e1e1e"><tspan font-size="10.1">1.0</tspan></text>
<text x="15.95" y="256.05" fill="#1e1e1e"><tspan font-size="10.1">1.1</tspan></text>
<text x="15.97" y="244.05" fill="#1e1e1e"><tspan font-size="10.1">1.2</tspan></text>
<text x="15.90" y="232.05" fill="#1e1e1e"><tspan font-size="10.1">1.3</tspan></text>
<text x="121.89" y="314.20" fill="#1e1e1e"><tspan font-size="9.8">10</tspan></text>
<text x="132.71" y="310.50" fill="#1e1e1e"><tspan font-size="6.9">1</tspan></text>
<text x="240.65" y="314.20" fill="#1e1e1e"><tspan font-size="9.8">10</tspan></text>
<text x="251.65" y="310.50" fill="#1e1e1e"><tspan font-size="6.9">2</tspan></text>
<text x="138.66" y="9.85" textLength="6.72" lengthAdjust="spacingAndGlyphs" fill="#1e1e1e"><tspan font-style="italic" font-size="11.2">F</tspan></text>
<text x="144.92" y="13.50" fill="#1e1e1e"><tspan font-size="7.6">2</tspan></text>
<text x="147.19" y="3.90" fill="#1e1e1e"><tspan font-style="italic" font-size="7.6">p</tspan></text>
<text x="155.89" y="9.70" textLength="21.11" lengthAdjust="spacingAndGlyphs" fill="#1e1e1e"><tspan font-size="11.2">NC,</tspan></text>
<text x="181.44" y="9.70" textLength="5.44" lengthAdjust="spacingAndGlyphs" fill="#1e1e1e"><tspan font-style="italic" font-size="11.2">x</tspan></text>
<path d="M191.90,5.25h8.8M191.90,7.95h8.8" stroke="#1e1e1e" stroke-width="0.7"/>
<text x="204.94" y="9.90" textLength="12.61" lengthAdjust="spacingAndGlyphs" fill="#1e1e1e"><tspan font-size="11.2">10</tspan></text>
<path d="M218.30,3.0h5.3" stroke="#1e1e1e" stroke-width="0.6"/>
<text x="224.45" y="5.90" textLength="5.16" lengthAdjust="spacingAndGlyphs" fill="#1e1e1e"><tspan font-size="7.4">3</tspan></text>
<text x="160.60" y="326.30" textLength="7.83" lengthAdjust="spacingAndGlyphs" fill="#1e1e1e"><tspan font-style="italic" font-size="10.3">Q</tspan></text>
<text x="172.32" y="326.30" textLength="24.36" lengthAdjust="spacingAndGlyphs" fill="#1e1e1e"><tspan font-size="10.3">[GeV]</tspan></text>
<clipPath id="clipRtop"><rect x="389.30" y="19.30" width="294.40" height="110.00"/></clipPath>
<path d="M389.30,129.30H683.70 M389.30,117.08H683.70 M389.30,104.86H683.70 M389.30,92.63H683.70 M389.30,80.41H683.70 M389.30,68.19H683.70 M389.30,55.97H683.70 M389.30,43.74H683.70 M389.30,31.52H683.70 M389.30,19.30H683.70 M482.14,19.30V129.30 M600.78,19.30V129.30" stroke="#e9e9e9" stroke-width="1.35" fill="none"/>
<g clip-path="url(#clipRtop)">
<path d="M389.30,126.54 L390.53,126.50 L391.76,126.46 L393.00,126.42 L394.23,126.38 L395.46,126.33 L396.69,126.28 L397.92,126.22 L399.15,126.17 L400.39,126.11 L401.62,126.05 L402.85,125.98 L404.08,125.92 L405.31,125.85 L406.55,125.77 L407.78,125.70 L409.01,125.62 L410.24,125.54 L411.47,125.46 L412.70,125.37 L413.94,125.28 L415.17,125.19 L416.40,125.10 L417.63,125.00 L418.86,124.90 L420.09,124.80 L421.33,124.70 L422.56,124.59 L423.79,124.48 L425.02,124.37 L426.25,124.26 L427.49,124.14 L428.72,124.03 L429.95,123.91 L431.18,123.78 L432.41,123.66 L433.64,123.53 L434.88,123.40 L436.11,123.27 L437.34,123.13 L438.57,123.00 L439.80,122.86 L441.04,122.72 L442.27,122.57 L443.50,122.43 L444.73,122.28 L445.96,122.13 L447.19,121.98 L448.43,121.82 L449.66,121.67 L450.89,121.51 L452.12,121.35 L453.35,121.19 L454.59,121.02 L455.82,120.86 L457.05,120.69 L458.28,120.52 L459.51,120.35 L460.74,120.17 L461.98,119.99 L463.21,119.82 L464.44,119.64 L465.67,119.45 L466.90,119.27 L468.14,119.08 L469.37,118.90 L470.60,118.71 L471.83,118.52 L473.06,118.32 L474.29,118.13 L475.53,117.93 L476.76,117.73 L477.99,117.53 L479.22,117.33 L480.45,117.13 L481.68,116.92 L482.92,116.72 L484.15,116.51 L485.38,116.30 L486.61,116.09 L487.84,115.88 L489.08,115.66 L490.31,115.44 L491.54,115.23 L492.77,115.01 L494.00,114.79 L495.23,114.56 L496.47,114.34 L497.70,114.12 L498.93,113.89 L500.16,113.66 L501.39,113.43 L502.63,113.20 L503.86,112.97 L505.09,112.74 L506.32,112.50 L507.55,112.27 L508.78,112.03 L510.02,111.79 L511.25,111.55 L512.48,111.31 L513.71,111.07 L514.94,110.82 L516.18,110.58 L517.41,110.33 L518.64,110.08 L519.87,109.84 L521.10,109.59 L522.33,109.34 L523.57,109.08 L524.80,108.83 L526.03,108.58 L527.26,108.32 L528.49,108.06 L529.73,107.80 L530.96,107.54 L532.19,107.27 L533.42,107.00 L534.65,106.73 L535.88,106.46 L537.12,106.18 L538.35,105.90 L539.58,105.61 L540.81,105.32 L542.04,105.03 L543.27,104.73 L544.51,104.42 L545.74,104.11 L546.97,103.80 L548.20,103.48 L549.43,103.15 L550.67,102.82 L551.90,102.48 L553.13,102.13 L554.36,101.78 L555.59,101.43 L556.82,101.06 L558.06,100.69 L559.29,100.31 L560.52,99.92 L561.75,99.52 L562.98,99.12 L564.22,98.71 L565.45,98.29 L566.68,97.86 L567.91,97.43 L569.14,96.98 L570.37,96.53 L571.61,96.07 L572.84,95.60 L574.07,95.13 L575.30,94.64 L576.53,94.14 L577.77,93.64 L579.00,93.13 L580.23,92.60 L581.46,92.07 L582.69,91.53 L583.92,90.98 L585.16,90.42 L586.39,89.85 L587.62,89.27 L588.85,88.68 L590.08,88.08 L591.32,87.47 L592.55,86.85 L593.78,86.22 L595.01,85.58 L596.24,84.94 L597.47,84.28 L598.71,83.62 L599.94,82.95 L601.17,82.27 L602.40,81.59 L603.63,80.89 L604.86,80.19 L606.10,79.48 L607.33,78.77 L608.56,78.04 L609.79,77.31 L611.02,76.58 L612.26,75.84 L613.49,75.09 L614.72,74.34 L615.95,73.58 L617.18,72.82 L618.41,72.05 L619.65,71.28 L620.88,70.50 L622.11,69.71 L623.34,68.93 L624.57,68.14 L625.81,67.34 L627.04,66.54 L628.27,65.74 L629.50,64.94 L630.73,64.13 L631.96,63.32 L633.20,62.51 L634.43,61.69 L635.66,60.87 L636.89,60.05 L638.12,59.23 L639.36,58.41 L640.59,57.59 L641.82,56.76 L643.05,55.93 L644.28,55.11 L645.51,54.28 L646.75,53.45 L647.98,52.62 L649.21,51.80 L650.44,50.97 L651.67,50.14 L652.91,49.32 L654.14,48.49 L655.37,47.67 L656.60,46.84 L657.83,46.02 L659.06,45.20 L660.30,44.39 L661.53,43.57 L662.76,42.76 L663.99,41.95 L665.22,41.14 L666.45,40.33 L667.69,39.53 L668.92,38.74 L670.15,37.94 L671.38,37.15 L672.61,36.36 L673.85,35.58 L675.08,34.80 L676.31,34.03 L677.54,33.26 L678.77,32.50 L680.00,31.74 L681.24,30.99 L682.47,30.24 L683.70,29.50" stroke="#fc6542" stroke-width="1.85" fill="none" stroke-dasharray="3.3 2.9"/>
<path d="M389.30,126.60 L390.53,126.48 L391.76,126.37 L393.00,126.25 L394.23,126.13 L395.46,126.02 L396.69,125.90 L397.92,125.78 L399.15,125.66 L400.39,125.54 L401.62,125.42 L402.85,125.29 L404.08,125.17 L405.31,125.05 L406.55,124.92 L407.78,124.80 L409.01,124.67 L410.24,124.54 L411.47,124.41 L412.70,124.28 L413.94,124.15 L415.17,124.02 L416.40,123.89 L417.63,123.75 L418.86,123.62 L420.09,123.48 L421.33,123.35 L422.56,123.21 L423.79,123.07 L425.02,122.93 L426.25,122.79 L427.49,122.64 L428.72,122.50 L429.95,122.36 L431.18,122.21 L432.41,122.06 L433.64,121.92 L434.88,121.77 L436.11,121.62 L437.34,121.46 L438.57,121.31 L439.80,121.16 L441.04,121.00 L442.27,120.85 L443.50,120.69 L444.73,120.53 L445.96,120.37 L447.19,120.21 L448.43,120.04 L449.66,119.88 L450.89,119.71 L452.12,119.54 L453.35,119.38 L454.59,119.21 L455.82,119.03 L457.05,118.86 L458.28,118.69 L459.51,118.51 L460.74,118.33 L461.98,118.16 L463.21,117.98 L464.44,117.79 L465.67,117.61 L466.90,117.43 L468.14,117.24 L469.37,117.05 L470.60,116.86 L471.83,116.67 L473.06,116.48 L474.29,116.29 L475.53,116.09 L476.76,115.89 L477.99,115.69 L479.22,115.49 L480.45,115.29 L481.68,115.09 L482.92,114.88 L484.15,114.68 L485.38,114.47 L486.61,114.26 L487.84,114.04 L489.08,113.83 L490.31,113.61 L491.54,113.40 L492.77,113.18 L494.00,112.95 L495.23,112.73 L496.47,112.51 L497.70,112.28 L498.93,112.05 L500.16,111.82 L501.39,111.59 L502.63,111.35 L503.86,111.12 L505.09,110.88 L506.32,110.64 L507.55,110.40 L508.78,110.15 L510.02,109.91 L511.25,109.66 L512.48,109.41 L513.71,109.16 L514.94,108.91 L516.18,108.65 L517.41,108.39 L518.64,108.13 L519.87,107.87 L521.10,107.61 L522.33,107.34 L523.57,107.07 L524.80,106.80 L526.03,106.53 L527.26,106.25 L528.49,105.98 L529.73,105.70 L530.96,105.42 L532.19,105.13 L533.42,104.85 L534.65,104.56 L535.88,104.27 L537.12,103.98 L538.35,103.68 L539.58,103.39 L540.81,103.09 L542.04,102.78 L543.27,102.48 L544.51,102.17 L545.74,101.87 L546.97,101.55 L548.20,101.24 L549.43,100.92 L550.67,100.59 L551.90,100.26 L553.13,99.93 L554.36,99.59 L555.59,99.25 L556.82,98.90 L558.06,98.54 L559.29,98.18 L560.52,97.81 L561.75,97.43 L562.98,97.05 L564.22,96.65 L565.45,96.25 L566.68,95.85 L567.91,95.43 L569.14,95.00 L570.37,94.57 L571.61,94.12 L572.84,93.67 L574.07,93.20 L575.30,92.73 L576.53,92.24 L577.77,91.74 L579.00,91.24 L580.23,90.71 L581.46,90.18 L582.69,89.64 L583.92,89.08 L585.16,88.51 L586.39,87.93 L587.62,87.34 L588.85,86.74 L590.08,86.13 L591.32,85.50 L592.55,84.87 L593.78,84.23 L595.01,83.57 L596.24,82.91 L597.47,82.23 L598.71,81.55 L599.94,80.85 L601.17,80.15 L602.40,79.44 L603.63,78.72 L604.86,77.99 L606.10,77.25 L607.33,76.50 L608.56,75.75 L609.79,74.98 L611.02,74.21 L612.26,73.43 L613.49,72.64 L614.72,71.85 L615.95,71.05 L617.18,70.24 L618.41,69.42 L619.65,68.60 L620.88,67.77 L622.11,66.93 L623.34,66.09 L624.57,65.24 L625.81,64.39 L627.04,63.54 L628.27,62.68 L629.50,61.82 L630.73,60.95 L631.96,60.09 L633.20,59.22 L634.43,58.35 L635.66,57.48 L636.89,56.61 L638.12,55.74 L639.36,54.87 L640.59,53.99 L641.82,53.13 L643.05,52.26 L644.28,51.39 L645.51,50.53 L646.75,49.67 L647.98,48.81 L649.21,47.96 L650.44,47.11 L651.67,46.27 L652.91,45.43 L654.14,44.60 L655.37,43.77 L656.60,42.95 L657.83,42.14 L659.06,41.34 L660.30,40.54 L661.53,39.75 L662.76,38.97 L663.99,38.20 L665.22,37.44 L666.45,36.69 L667.69,35.95 L668.92,35.22 L670.15,34.50 L671.38,33.79 L672.61,33.10 L673.85,32.42 L675.08,31.75 L676.31,31.09 L677.54,30.45 L678.77,29.83 L680.00,29.22 L681.24,28.62 L682.47,28.04 L683.70,27.48" stroke="#7ca2d6" stroke-width="1.9" fill="none"/>
</g>
<path d="M389.30,129.30h6.0 M683.70,129.30h-6.0 M389.30,117.08h6.0 M683.70,117.08h-6.0 M389.30,104.86h6.0 M683.70,104.86h-6.0 M389.30,92.63h6.0 M683.70,92.63h-6.0 M389.30,80.41h6.0 M683.70,80.41h-6.0 M389.30,68.19h6.0 M683.70,68.19h-6.0 M389.30,55.97h6.0 M683.70,55.97h-6.0 M389.30,43.74h6.0 M683.70,43.74h-6.0 M389.30,31.52h6.0 M683.70,31.52h-6.0 M389.30,19.30h6.0 M683.70,19.30h-6.0 M399.21,129.30v-3.1 M399.21,19.30v3.1 M420.10,129.30v-3.1 M420.10,19.30v3.1 M434.93,129.30v-3.1 M434.93,19.30v3.1 M446.42,129.30v-3.1 M446.42,19.30v3.1 M455.82,129.30v-3.1 M455.82,19.30v3.1 M463.76,129.30v-3.1 M463.76,19.30v3.1 M470.64,129.30v-3.1 M470.64,19.30v3.1 M476.71,129.30v-3.1 M476.71,19.30v3.1 M482.14,129.30v-6.1 M482.14,19.30v6.1 M517.85,129.30v-3.1 M517.85,19.30v3.1 M538.74,129.30v-3.1 M538.74,19.30v3.1 M553.56,129.30v-3.1 M553.56,19.30v3.1 M565.06,129.30v-3.1 M565.06,19.30v3.1 M574.46,129.30v-3.1 M574.46,19.30v3.1 M582.40,129.30v-3.1 M582.40,19.30v3.1 M589.28,129.30v-3.1 M589.28,19.30v3.1 M595.35,129.30v-3.1 M595.35,19.30v3.1 M600.78,129.30v-6.1 M600.78,19.30v6.1 M636.49,129.30v-3.1 M636.49,19.30v3.1 M657.38,129.30v-3.1 M657.38,19.30v3.1 M672.20,129.30v-3.1 M672.20,19.30v3.1 M683.70,129.30v-3.1 M683.70,19.30v3.1" stroke="#262626" stroke-width="1.1" fill="none"/>
<rect x="389.30" y="19.30" width="294.40" height="110.00" stroke="#262626" stroke-width="1.3" fill="none"/>
<rect x="608.90" y="100.2" width="71.2" height="24.4" fill="#f5f5f5"/>
<path d="M614.60,106.2h27" stroke="#fc6542" stroke-width="1.7" stroke-dasharray="3.3 2.9"/>
<path d="M614.80,117.5h27.5" stroke="#7ca2d6" stroke-width="1.7"/>
<text x="651.97" y="109.00" textLength="18.36" lengthAdjust="spacingAndGlyphs" fill="#1e1e1e"><tspan font-size="8.8">NLO</tspan></text>
<text x="651.98" y="120.40" textLength="24.55" lengthAdjust="spacingAndGlyphs" fill="#1e1e1e"><tspan font-size="8.8">NNLO</tspan></text>
<text x="397.87" y="37.40" textLength="45.92" lengthAdjust="spacingAndGlyphs" fill="#1e1e1e"><tspan font-size="10.3">NNPDF31</tspan></text>
<text x="397.95" y="53.60" textLength="33.50" lengthAdjust="spacingAndGlyphs" fill="#1e1e1e"><tspan font-size="10.3">FONLL</tspan></text>
<text x="377.78" y="132.85" fill="#1e1e1e"><tspan font-size="10.1">0</tspan></text>
<text x="377.81" y="120.63" fill="#1e1e1e"><tspan font-size="10.1">5</tspan></text>
<text x="372.16" y="108.41" fill="#1e1e1e"><tspan font-size="10.1">10</tspan></text>
<text x="372.19" y="96.18" fill="#1e1e1e"><tspan font-size="10.1">15</tspan></text>
<text x="372.16" y="83.96" fill="#1e1e1e"><tspan font-size="10.1">20</tspan></text>
<text x="372.19" y="71.74" fill="#1e1e1e"><tspan font-size="10.1">25</tspan></text>
<text x="372.16" y="59.52" fill="#1e1e1e"><tspan font-size="10.1">30</tspan></text>
<text x="372.19" y="47.29" fill="#1e1e1e"><tspan font-size="10.1">35</tspan></text>
<text x="372.16" y="35.07" fill="#1e1e1e"><tspan font-size="10.1">40</tspan></text>
<text x="372.19" y="22.85" fill="#1e1e1e"><tspan font-size="10.1">45</tspan></text>
<clipPath id="clipRr1"><rect x="389.30" y="142.00" width="294.40" height="72.60"/></clipPath>
<path d="M389.30,214.50H683.70 M389.30,202.50H683.70 M389.30,190.50H683.70 M389.30,178.50H683.70 M389.30,166.50H683.70 M389.30,154.50H683.70 M389.30,142.50H683.70 M482.14,142.00V214.60 M600.78,142.00V214.60" stroke="#e9e9e9" stroke-width="1.35" fill="none"/>
<rect x="580.80" y="193.00" width="101.90" height="11.6" fill="#fff" fill-opacity="0.85"/>
<g clip-path="url(#clipRr1)">
<path d="M389.30,178.50H683.70" stroke="#111" stroke-width="1.1" stroke-dasharray="1.7 1.4"/>
<path d="M389.30,144.42 L390.53,145.15 L391.76,145.88 L393.00,146.60 L394.23,147.32 L395.46,148.03 L396.69,148.73 L397.92,149.43 L399.15,150.13 L400.39,150.81 L401.62,151.49 L402.85,152.16 L404.08,152.82 L405.31,153.47 L406.55,154.12 L407.78,154.75 L409.01,155.37 L410.24,155.99 L411.47,156.59 L412.70,157.18 L413.94,157.76 L415.17,158.32 L416.40,158.88 L417.63,159.42 L418.86,159.94 L420.09,160.45 L421.33,160.95 L422.56,161.44 L423.79,161.91 L425.02,162.37 L426.25,162.82 L427.49,163.25 L428.72,163.67 L429.95,164.08 L431.18,164.48 L432.41,164.87 L433.64,165.24 L434.88,165.60 L436.11,165.95 L437.34,166.29 L438.57,166.61 L439.80,166.93 L441.04,167.23 L442.27,167.52 L443.50,167.81 L444.73,168.08 L445.96,168.34 L447.19,168.60 L448.43,168.84 L449.66,169.07 L450.89,169.30 L452.12,169.52 L453.35,169.73 L454.59,169.93 L455.82,170.12 L457.05,170.31 L458.28,170.48 L459.51,170.66 L460.74,170.82 L461.98,170.98 L463.21,171.13 L464.44,171.28 L465.67,171.42 L466.90,171.56 L468.14,171.69 L469.37,171.82 L470.60,171.94 L471.83,172.06 L473.06,172.17 L474.29,172.29 L475.53,172.39 L476.76,172.50 L477.99,172.60 L479.22,172.70 L480.45,172.80 L481.68,172.90 L482.92,172.99 L484.15,173.09 L485.38,173.18 L486.61,173.27 L487.84,173.36 L489.08,173.45 L490.31,173.54 L491.54,173.62 L492.77,173.71 L494.00,173.79 L495.23,173.87 L496.47,173.95 L497.70,174.03 L498.93,174.11 L500.16,174.18 L501.39,174.26 L502.63,174.33 L503.86,174.40 L505.09,174.48 L506.32,174.55 L507.55,174.61 L508.78,174.68 L510.02,174.75 L511.25,174.81 L512.48,174.88 L513.71,174.94 L514.94,175.00 L516.18,175.06 L517.41,175.12 L518.64,175.18 L519.87,175.24 L521.10,175.30 L522.33,175.35 L523.57,175.40 L524.80,175.46 L526.03,175.51 L527.26,175.56 L528.49,175.61 L529.73,175.66 L530.96,175.71 L532.19,175.75 L533.42,175.80 L534.65,175.85 L535.88,175.89 L537.12,175.93 L538.35,175.97 L539.58,176.02 L540.81,176.06 L542.04,176.10 L543.27,176.13 L544.51,176.17 L545.74,176.21 L546.97,176.24 L548.20,176.28 L549.43,176.31 L550.67,176.35 L551.90,176.38 L553.13,176.41 L554.36,176.44 L555.59,176.47 L556.82,176.50 L558.06,176.53 L559.29,176.56 L560.52,176.58 L561.75,176.61 L562.98,176.64 L564.22,176.66 L565.45,176.69 L566.68,176.71 L567.91,176.73 L569.14,176.75 L570.37,176.78 L571.61,176.80 L572.84,176.82 L574.07,176.84 L575.30,176.86 L576.53,176.87 L577.77,176.89 L579.00,176.91 L580.23,176.93 L581.46,176.94 L582.69,176.96 L583.92,176.97 L585.16,176.99 L586.39,177.00 L587.62,177.01 L588.85,177.03 L590.08,177.04 L591.32,177.05 L592.55,177.06 L593.78,177.07 L595.01,177.08 L596.24,177.09 L597.47,177.10 L598.71,177.11 L599.94,177.12 L601.17,177.13 L602.40,177.14 L603.63,177.15 L604.86,177.15 L606.10,177.16 L607.33,177.17 L608.56,177.18 L609.79,177.18 L611.02,177.19 L612.26,177.19 L613.49,177.20 L614.72,177.20 L615.95,177.21 L617.18,177.21 L618.41,177.22 L619.65,177.22 L620.88,177.23 L622.11,177.23 L623.34,177.23 L624.57,177.24 L625.81,177.24 L627.04,177.24 L628.27,177.24 L629.50,177.25 L630.73,177.25 L631.96,177.25 L633.20,177.25 L634.43,177.26 L635.66,177.26 L636.89,177.26 L638.12,177.26 L639.36,177.27 L640.59,177.27 L641.82,177.27 L643.05,177.27 L644.28,177.27 L645.51,177.28 L646.75,177.28 L647.98,177.28 L649.21,177.28 L650.44,177.28 L651.67,177.29 L652.91,177.29 L654.14,177.29 L655.37,177.29 L656.60,177.30 L657.83,177.30 L659.06,177.30 L660.30,177.30 L661.53,177.31 L662.76,177.31 L663.99,177.31 L665.22,177.32 L666.45,177.32 L667.69,177.32 L668.92,177.33 L670.15,177.33 L671.38,177.34 L672.61,177.34 L673.85,177.35 L675.08,177.35 L676.31,177.36 L677.54,177.36 L678.77,177.37 L680.00,177.38 L681.24,177.38 L682.47,177.39 L683.70,177.40" stroke="#e3161b" stroke-width="2.1" fill="none" stroke-dasharray="3.9 2.2"/>
<path d="M389.30,167.62 L390.53,168.48 L391.76,169.28 L393.00,170.03 L394.23,170.74 L395.46,171.40 L396.69,172.02 L397.92,172.60 L399.15,173.14 L400.39,173.63 L401.62,174.09 L402.85,174.51 L404.08,174.90 L405.31,175.25 L406.55,175.58 L407.78,175.87 L409.01,176.13 L410.24,176.37 L411.47,176.58 L412.70,176.77 L413.94,176.94 L415.17,177.08 L416.40,177.21 L417.63,177.32 L418.86,177.41 L420.09,177.49 L421.33,177.55 L422.56,177.61 L423.79,177.65 L425.02,177.69 L426.25,177.72 L427.49,177.74 L428.72,177.76 L429.95,177.78 L431.18,177.80 L432.41,177.81 L433.64,177.83 L434.88,177.85 L436.11,177.86 L437.34,177.88 L438.57,177.90 L439.80,177.91 L441.04,177.93 L442.27,177.94 L443.50,177.95 L444.73,177.97 L445.96,177.98 L447.19,177.99 L448.43,178.01 L449.66,178.02 L450.89,178.03 L452.12,178.04 L453.35,178.05 L454.59,178.06 L455.82,178.07 L457.05,178.08 L458.28,178.09 L459.51,178.10 L460.74,178.11 L461.98,178.12 L463.21,178.13 L464.44,178.14 L465.67,178.15 L466.90,178.15 L468.14,178.16 L469.37,178.17 L470.60,178.18 L471.83,178.18 L473.06,178.19 L474.29,178.19 L475.53,178.20 L476.76,178.21 L477.99,178.21 L479.22,178.22 L480.45,178.22 L481.68,178.22 L482.92,178.23 L484.15,178.23 L485.38,178.24 L486.61,178.24 L487.84,178.24 L489.08,178.24 L490.31,178.25 L491.54,178.25 L492.77,178.25 L494.00,178.25 L495.23,178.26 L496.47,178.26 L497.70,178.26 L498.93,178.26 L500.16,178.26 L501.39,178.26 L502.63,178.26 L503.86,178.26 L505.09,178.26 L506.32,178.26 L507.55,178.26 L508.78,178.26 L510.02,178.26 L511.25,178.26 L512.48,178.26 L513.71,178.26 L514.94,178.26 L516.18,178.26 L517.41,178.25 L518.64,178.25 L519.87,178.25 L521.10,178.25 L522.33,178.25 L523.57,178.24 L524.80,178.24 L526.03,178.24 L527.26,178.24 L528.49,178.23 L529.73,178.23 L530.96,178.23 L532.19,178.23 L533.42,178.22 L534.65,178.22 L535.88,178.22 L537.12,178.21 L538.35,178.21 L539.58,178.21 L540.81,178.20 L542.04,178.20 L543.27,178.19 L544.51,178.19 L545.74,178.19 L546.97,178.18 L548.20,178.18 L549.43,178.17 L550.67,178.17 L551.90,178.17 L553.13,178.16 L554.36,178.16 L555.59,178.15 L556.82,178.15 L558.06,178.14 L559.29,178.14 L560.52,178.13 L561.75,178.13 L562.98,178.13 L564.22,178.12 L565.45,178.12 L566.68,178.11 L567.91,178.11 L569.14,178.10 L570.37,178.10 L571.61,178.09 L572.84,178.09 L574.07,178.08 L575.30,178.08 L576.53,178.08 L577.77,178.07 L579.00,178.07 L580.23,178.06 L581.46,178.06 L582.69,178.05 L583.92,178.05 L585.16,178.05 L586.39,178.04 L587.62,178.04 L588.85,178.03 L590.08,178.03 L591.32,178.03 L592.55,178.02 L593.78,178.02 L595.01,178.01 L596.24,178.01 L597.47,178.01 L598.71,178.00 L599.94,178.00 L601.17,178.00 L602.40,177.99 L603.63,177.99 L604.86,177.99 L606.10,177.99 L607.33,177.98 L608.56,177.98 L609.79,177.98 L611.02,177.98 L612.26,177.97 L613.49,177.97 L614.72,177.97 L615.95,177.97 L617.18,177.97 L618.41,177.96 L619.65,177.96 L620.88,177.96 L622.11,177.96 L623.34,177.96 L624.57,177.96 L625.81,177.96 L627.04,177.96 L628.27,177.96 L629.50,177.96 L630.73,177.96 L631.96,177.96 L633.20,177.96 L634.43,177.96 L635.66,177.96 L636.89,177.96 L638.12,177.96 L639.36,177.97 L640.59,177.97 L641.82,177.97 L643.05,177.97 L644.28,177.97 L645.51,177.98 L646.75,177.98 L647.98,177.98 L649.21,177.99 L650.44,177.99 L651.67,177.99 L652.91,178.00 L654.14,178.00 L655.37,178.01 L656.60,178.01 L657.83,178.02 L659.06,178.02 L660.30,178.03 L661.53,178.03 L662.76,178.04 L663.99,178.05 L665.22,178.05 L666.45,178.06 L667.69,178.07 L668.92,178.08 L670.15,178.08 L671.38,178.09 L672.61,178.10 L673.85,178.11 L675.08,178.12 L676.31,178.13 L677.54,178.14 L678.77,178.15 L680.00,178.16 L681.24,178.17 L682.47,178.18 L683.70,178.19" stroke="#2c74b6" stroke-width="2.1" fill="none"/>
</g>
<path d="M389.30,214.50h6.0 M683.70,214.50h-6.0 M389.30,202.50h6.0 M683.70,202.50h-6.0 M389.30,190.50h6.0 M683.70,190.50h-6.0 M389.30,178.50h6.0 M683.70,178.50h-6.0 M389.30,166.50h6.0 M683.70,166.50h-6.0 M389.30,154.50h6.0 M683.70,154.50h-6.0 M389.30,142.50h6.0 M683.70,142.50h-6.0 M399.21,214.60v-3.1 M399.21,142.00v3.1 M420.10,214.60v-3.1 M420.10,142.00v3.1 M434.93,214.60v-3.1 M434.93,142.00v3.1 M446.42,214.60v-3.1 M446.42,142.00v3.1 M455.82,214.60v-3.1 M455.82,142.00v3.1 M463.76,214.60v-3.1 M463.76,142.00v3.1 M470.64,214.60v-3.1 M470.64,142.00v3.1 M476.71,214.60v-3.1 M476.71,142.00v3.1 M482.14,214.60v-6.1 M482.14,142.00v6.1 M517.85,214.60v-3.1 M517.85,142.00v3.1 M538.74,214.60v-3.1 M538.74,142.00v3.1 M553.56,214.60v-3.1 M553.56,142.00v3.1 M565.06,214.60v-3.1 M565.06,142.00v3.1 M574.46,214.60v-3.1 M574.46,142.00v3.1 M582.40,214.60v-3.1 M582.40,142.00v3.1 M589.28,214.60v-3.1 M589.28,142.00v3.1 M595.35,214.60v-3.1 M595.35,142.00v3.1 M600.78,214.60v-6.1 M600.78,142.00v6.1 M636.49,214.60v-3.1 M636.49,142.00v3.1 M657.38,214.60v-3.1 M657.38,142.00v3.1 M672.20,214.60v-3.1 M672.20,142.00v3.1 M683.70,214.60v-3.1 M683.70,142.00v3.1" stroke="#262626" stroke-width="1.1" fill="none"/>
<rect x="389.30" y="142.00" width="294.40" height="72.60" stroke="#262626" stroke-width="1.3" fill="none"/>
<rect x="427.40" y="145.90" width="253.3" height="15.0" fill="#f5f5f5"/>
<path d="M432.60,153.10h28.2" stroke="#e3161b" stroke-width="2.1" stroke-dasharray="3.9 2.2"/>
<path d="M558.20,152.90h28.4" stroke="#2c74b6" stroke-width="2.1"/>
<text x="470.54" y="155.80" textLength="68.80" lengthAdjust="spacingAndGlyphs" fill="#1e1e1e"><tspan font-size="8.4">NLO</tspan><tspan font-size="10.6" dy="1.10">+</tspan><tspan font-size="8.4" dy="-1.10">NLL</tspan><tspan font-style="italic" font-size="8.4">x</tspan><tspan font-size="8.4">/NLO</tspan></text>
<text x="595.45" y="155.80" textLength="81.18" lengthAdjust="spacingAndGlyphs" fill="#1e1e1e"><tspan font-size="8.4">NNLO</tspan><tspan font-size="10.6" dy="1.10">+</tspan><tspan font-size="8.4" dy="-1.10">NLL</tspan><tspan font-style="italic" font-size="8.4">x</tspan><tspan font-size="8.4">/NNLO</tspan></text>
<text x="581.48" y="202.00" textLength="97.90" lengthAdjust="spacingAndGlyphs" fill="#111" stroke="#111" stroke-width="0.22"><tspan font-weight="bold" font-size="9.3">Fixed-Order Evolution</tspan></text>
<text x="369.47" y="218.05" fill="#1e1e1e"><tspan font-size="10.1">0.7</tspan></text>
<text x="369.40" y="206.05" fill="#1e1e1e"><tspan font-size="10.1">0.8</tspan></text>
<text x="369.44" y="194.05" fill="#1e1e1e"><tspan font-size="10.1">0.9</tspan></text>
<text x="369.35" y="182.05" fill="#1e1e1e"><tspan font-size="10.1">1.0</tspan></text>
<text x="369.45" y="170.05" fill="#1e1e1e"><tspan font-size="10.1">1.1</tspan></text>
<text x="369.47" y="158.05" fill="#1e1e1e"><tspan font-size="10.1">1.2</tspan></text>
<text x="369.40" y="146.05" fill="#1e1e1e"><tspan font-size="10.1">1.3</tspan></text>
<clipPath id="clipRr2"><rect x="389.30" y="228.10" width="294.40" height="72.70"/></clipPath>
<path d="M389.30,300.50H683.70 M389.30,288.50H683.70 M389.30,276.50H683.70 M389.30,264.50H683.70 M389.30,252.50H683.70 M389.30,240.50H683.70 M389.30,228.50H683.70 M482.14,228.10V300.80 M600.78,228.10V300.80" stroke="#e9e9e9" stroke-width="1.35" fill="none"/>
<rect x="580.80" y="279.20" width="101.90" height="11.6" fill="#fff" fill-opacity="0.85"/>
<g clip-path="url(#clipRr2)">
<path d="M389.30,264.50H683.70" stroke="#111" stroke-width="1.1" stroke-dasharray="1.7 1.4"/>
<path d="M389.30,229.77 L390.53,230.65 L391.76,231.53 L393.00,232.42 L394.23,233.32 L395.46,234.23 L396.69,235.14 L397.92,236.05 L399.15,236.97 L400.39,237.89 L401.62,238.82 L402.85,239.74 L404.08,240.67 L405.31,241.59 L406.55,242.51 L407.78,243.42 L409.01,244.33 L410.24,245.24 L411.47,246.13 L412.70,247.02 L413.94,247.90 L415.17,248.77 L416.40,249.63 L417.63,250.48 L418.86,251.32 L420.09,252.14 L421.33,252.94 L422.56,253.73 L423.79,254.50 L425.02,255.26 L426.25,255.99 L427.49,256.71 L428.72,257.40 L429.95,258.07 L431.18,258.71 L432.41,259.34 L433.64,259.94 L434.88,260.52 L436.11,261.08 L437.34,261.61 L438.57,262.13 L439.80,262.62 L441.04,263.10 L442.27,263.56 L443.50,264.00 L444.73,264.42 L445.96,264.83 L447.19,265.21 L448.43,265.59 L449.66,265.94 L450.89,266.28 L452.12,266.61 L453.35,266.92 L454.59,267.22 L455.82,267.51 L457.05,267.78 L458.28,268.04 L459.51,268.29 L460.74,268.53 L461.98,268.76 L463.21,268.98 L464.44,269.18 L465.67,269.38 L466.90,269.57 L468.14,269.75 L469.37,269.92 L470.60,270.09 L471.83,270.24 L473.06,270.39 L474.29,270.53 L475.53,270.66 L476.76,270.79 L477.99,270.91 L479.22,271.02 L480.45,271.12 L481.68,271.22 L482.92,271.32 L484.15,271.41 L485.38,271.50 L486.61,271.58 L487.84,271.65 L489.08,271.73 L490.31,271.79 L491.54,271.86 L492.77,271.92 L494.00,271.98 L495.23,272.04 L496.47,272.10 L497.70,272.15 L498.93,272.20 L500.16,272.25 L501.39,272.30 L502.63,272.35 L503.86,272.40 L505.09,272.45 L506.32,272.49 L507.55,272.54 L508.78,272.58 L510.02,272.63 L511.25,272.67 L512.48,272.71 L513.71,272.75 L514.94,272.79 L516.18,272.83 L517.41,272.87 L518.64,272.91 L519.87,272.94 L521.10,272.98 L522.33,273.01 L523.57,273.05 L524.80,273.08 L526.03,273.11 L527.26,273.14 L528.49,273.18 L529.73,273.21 L530.96,273.23 L532.19,273.26 L533.42,273.29 L534.65,273.32 L535.88,273.34 L537.12,273.37 L538.35,273.39 L539.58,273.42 L540.81,273.44 L542.04,273.46 L543.27,273.49 L544.51,273.51 L545.74,273.53 L546.97,273.55 L548.20,273.57 L549.43,273.59 L550.67,273.60 L551.90,273.62 L553.13,273.64 L554.36,273.65 L555.59,273.67 L556.82,273.68 L558.06,273.70 L559.29,273.71 L560.52,273.72 L561.75,273.74 L562.98,273.75 L564.22,273.76 L565.45,273.77 L566.68,273.78 L567.91,273.79 L569.14,273.80 L570.37,273.81 L571.61,273.81 L572.84,273.82 L574.07,273.83 L575.30,273.83 L576.53,273.84 L577.77,273.84 L579.00,273.85 L580.23,273.85 L581.46,273.86 L582.69,273.86 L583.92,273.86 L585.16,273.86 L586.39,273.87 L587.62,273.87 L588.85,273.87 L590.08,273.87 L591.32,273.87 L592.55,273.87 L593.78,273.87 L595.01,273.87 L596.24,273.87 L597.47,273.86 L598.71,273.86 L599.94,273.86 L601.17,273.86 L602.40,273.85 L603.63,273.85 L604.86,273.85 L606.10,273.84 L607.33,273.84 L608.56,273.83 L609.79,273.83 L611.02,273.82 L612.26,273.81 L613.49,273.81 L614.72,273.80 L615.95,273.79 L617.18,273.79 L618.41,273.78 L619.65,273.77 L620.88,273.76 L622.11,273.76 L623.34,273.75 L624.57,273.74 L625.81,273.73 L627.04,273.72 L628.27,273.71 L629.50,273.70 L630.73,273.69 L631.96,273.68 L633.20,273.67 L634.43,273.66 L635.66,273.65 L636.89,273.64 L638.12,273.63 L639.36,273.62 L640.59,273.61 L641.82,273.60 L643.05,273.59 L644.28,273.58 L645.51,273.57 L646.75,273.56 L647.98,273.54 L649.21,273.53 L650.44,273.52 L651.67,273.51 L652.91,273.50 L654.14,273.49 L655.37,273.47 L656.60,273.46 L657.83,273.45 L659.06,273.44 L660.30,273.43 L661.53,273.41 L662.76,273.40 L663.99,273.39 L665.22,273.38 L666.45,273.37 L667.69,273.35 L668.92,273.34 L670.15,273.33 L671.38,273.32 L672.61,273.31 L673.85,273.30 L675.08,273.28 L676.31,273.27 L677.54,273.26 L678.77,273.25 L680.00,273.24 L681.24,273.23 L682.47,273.22 L683.70,273.20" stroke="#e3161b" stroke-width="2.1" fill="none" stroke-dasharray="3.9 2.2"/>
<path d="M389.30,253.39 L390.53,256.36 L391.76,259.05 L393.00,261.47 L394.23,263.67 L395.46,265.65 L396.69,267.45 L397.92,269.10 L399.15,270.61 L400.39,272.02 L401.62,273.34 L402.85,274.58 L404.08,275.74 L405.31,276.84 L406.55,277.88 L407.78,278.86 L409.01,279.78 L410.24,280.65 L411.47,281.46 L412.70,282.21 L413.94,282.92 L415.17,283.57 L416.40,284.17 L417.63,284.72 L418.86,285.22 L420.09,285.68 L421.33,286.09 L422.56,286.46 L423.79,286.78 L425.02,287.07 L426.25,287.31 L427.49,287.52 L428.72,287.70 L429.95,287.84 L431.18,287.95 L432.41,288.03 L433.64,288.09 L434.88,288.12 L436.11,288.12 L437.34,288.10 L438.57,288.07 L439.80,288.01 L441.04,287.94 L442.27,287.86 L443.50,287.76 L444.73,287.65 L445.96,287.53 L447.19,287.41 L448.43,287.28 L449.66,287.14 L450.89,287.01 L452.12,286.87 L453.35,286.73 L454.59,286.60 L455.82,286.46 L457.05,286.32 L458.28,286.17 L459.51,286.03 L460.74,285.89 L461.98,285.75 L463.21,285.60 L464.44,285.46 L465.67,285.31 L466.90,285.16 L468.14,285.02 L469.37,284.87 L470.60,284.72 L471.83,284.57 L473.06,284.42 L474.29,284.28 L475.53,284.13 L476.76,283.98 L477.99,283.83 L479.22,283.68 L480.45,283.53 L481.68,283.38 L482.92,283.23 L484.15,283.08 L485.38,282.93 L486.61,282.78 L487.84,282.63 L489.08,282.48 L490.31,282.33 L491.54,282.18 L492.77,282.03 L494.00,281.88 L495.23,281.74 L496.47,281.59 L497.70,281.44 L498.93,281.30 L500.16,281.15 L501.39,281.01 L502.63,280.86 L503.86,280.72 L505.09,280.58 L506.32,280.43 L507.55,280.29 L508.78,280.15 L510.02,280.01 L511.25,279.87 L512.48,279.74 L513.71,279.60 L514.94,279.47 L516.18,279.33 L517.41,279.20 L518.64,279.07 L519.87,278.94 L521.10,278.81 L522.33,278.68 L523.57,278.56 L524.80,278.43 L526.03,278.31 L527.26,278.19 L528.49,278.07 L529.73,277.95 L530.96,277.83 L532.19,277.72 L533.42,277.60 L534.65,277.49 L535.88,277.38 L537.12,277.27 L538.35,277.16 L539.58,277.05 L540.81,276.95 L542.04,276.84 L543.27,276.74 L544.51,276.64 L545.74,276.53 L546.97,276.44 L548.20,276.34 L549.43,276.24 L550.67,276.14 L551.90,276.05 L553.13,275.96 L554.36,275.87 L555.59,275.77 L556.82,275.68 L558.06,275.60 L559.29,275.51 L560.52,275.42 L561.75,275.34 L562.98,275.25 L564.22,275.17 L565.45,275.09 L566.68,275.01 L567.91,274.93 L569.14,274.85 L570.37,274.77 L571.61,274.70 L572.84,274.62 L574.07,274.54 L575.30,274.47 L576.53,274.40 L577.77,274.33 L579.00,274.26 L580.23,274.18 L581.46,274.12 L582.69,274.05 L583.92,273.98 L585.16,273.91 L586.39,273.85 L587.62,273.78 L588.85,273.72 L590.08,273.65 L591.32,273.59 L592.55,273.53 L593.78,273.47 L595.01,273.41 L596.24,273.35 L597.47,273.29 L598.71,273.23 L599.94,273.17 L601.17,273.12 L602.40,273.06 L603.63,273.00 L604.86,272.95 L606.10,272.90 L607.33,272.84 L608.56,272.79 L609.79,272.74 L611.02,272.68 L612.26,272.63 L613.49,272.58 L614.72,272.53 L615.95,272.48 L617.18,272.43 L618.41,272.38 L619.65,272.33 L620.88,272.28 L622.11,272.24 L623.34,272.19 L624.57,272.14 L625.81,272.09 L627.04,272.05 L628.27,272.00 L629.50,271.96 L630.73,271.91 L631.96,271.87 L633.20,271.82 L634.43,271.78 L635.66,271.73 L636.89,271.69 L638.12,271.65 L639.36,271.60 L640.59,271.56 L641.82,271.52 L643.05,271.47 L644.28,271.43 L645.51,271.39 L646.75,271.34 L647.98,271.30 L649.21,271.26 L650.44,271.22 L651.67,271.18 L652.91,271.13 L654.14,271.09 L655.37,271.05 L656.60,271.01 L657.83,270.97 L659.06,270.93 L660.30,270.88 L661.53,270.84 L662.76,270.80 L663.99,270.76 L665.22,270.72 L666.45,270.67 L667.69,270.63 L668.92,270.59 L670.15,270.55 L671.38,270.51 L672.61,270.46 L673.85,270.42 L675.08,270.38 L676.31,270.33 L677.54,270.29 L678.77,270.25 L680.00,270.20 L681.24,270.16 L682.47,270.11 L683.70,270.07" stroke="#2c74b6" stroke-width="2.1" fill="none"/>
</g>
<path d="M389.30,300.50h6.0 M683.70,300.50h-6.0 M389.30,288.50h6.0 M683.70,288.50h-6.0 M389.30,276.50h6.0 M683.70,276.50h-6.0 M389.30,264.50h6.0 M683.70,264.50h-6.0 M389.30,252.50h6.0 M683.70,252.50h-6.0 M389.30,240.50h6.0 M683.70,240.50h-6.0 M389.30,228.50h6.0 M683.70,228.50h-6.0 M399.21,300.80v-3.1 M399.21,228.10v3.1 M420.10,300.80v-3.1 M420.10,228.10v3.1 M434.93,300.80v-3.1 M434.93,228.10v3.1 M446.42,300.80v-3.1 M446.42,228.10v3.1 M455.82,300.80v-3.1 M455.82,228.10v3.1 M463.76,300.80v-3.1 M463.76,228.10v3.1 M470.64,300.80v-3.1 M470.64,228.10v3.1 M476.71,300.80v-3.1 M476.71,228.10v3.1 M482.14,300.80v-6.1 M482.14,228.10v6.1 M517.85,300.80v-3.1 M517.85,228.10v3.1 M538.74,300.80v-3.1 M538.74,228.10v3.1 M553.56,300.80v-3.1 M553.56,228.10v3.1 M565.06,300.80v-3.1 M565.06,228.10v3.1 M574.46,300.80v-3.1 M574.46,228.10v3.1 M582.40,300.80v-3.1 M582.40,228.10v3.1 M589.28,300.80v-3.1 M589.28,228.10v3.1 M595.35,300.80v-3.1 M595.35,228.10v3.1 M600.78,300.80v-6.1 M600.78,228.10v6.1 M636.49,300.80v-3.1 M636.49,228.10v3.1 M657.38,300.80v-3.1 M657.38,228.10v3.1 M672.20,300.80v-3.1 M672.20,228.10v3.1 M683.70,300.80v-3.1 M683.70,228.10v3.1" stroke="#262626" stroke-width="1.1" fill="none"/>
<rect x="389.30" y="228.10" width="294.40" height="72.70" stroke="#262626" stroke-width="1.3" fill="none"/>
<rect x="427.40" y="232.00" width="253.3" height="15.0" fill="#f5f5f5"/>
<path d="M432.60,239.20h28.2" stroke="#e3161b" stroke-width="2.1" stroke-dasharray="3.9 2.2"/>
<path d="M558.20,239.00h28.4" stroke="#2c74b6" stroke-width="2.1"/>
<text x="470.54" y="241.90" textLength="68.80" lengthAdjust="spacingAndGlyphs" fill="#1e1e1e"><tspan font-size="8.4">NLO</tspan><tspan font-size="10.6" dy="1.10">+</tspan><tspan font-size="8.4" dy="-1.10">NLL</tspan><tspan font-style="italic" font-size="8.4">x</tspan><tspan font-size="8.4">/NLO</tspan></text>
<text x="595.45" y="241.90" textLength="81.18" lengthAdjust="spacingAndGlyphs" fill="#1e1e1e"><tspan font-size="8.4">NNLO</tspan><tspan font-size="10.6" dy="1.10">+</tspan><tspan font-size="8.4" dy="-1.10">NLL</tspan><tspan font-style="italic" font-size="8.4">x</tspan><tspan font-size="8.4">/NNLO</tspan></text>
<text x="581.59" y="287.50" textLength="93.68" lengthAdjust="spacingAndGlyphs" fill="#111" stroke="#111" stroke-width="0.22"><tspan font-weight="bold" font-size="9.3">Resummed Evolution</tspan></text>
<text x="369.47" y="304.05" fill="#1e1e1e"><tspan font-size="10.1">0.7</tspan></text>
<text x="369.40" y="292.05" fill="#1e1e1e"><tspan font-size="10.1">0.8</tspan></text>
<text x="369.44" y="280.05" fill="#1e1e1e"><tspan font-size="10.1">0.9</tspan></text>
<text x="369.35" y="268.05" fill="#1e1e1e"><tspan font-size="10.1">1.0</tspan></text>
<text x="369.45" y="256.05" fill="#1e1e1e"><tspan font-size="10.1">1.1</tspan></text>
<text x="369.47" y="244.05" fill="#1e1e1e"><tspan font-size="10.1">1.2</tspan></text>
<text x="369.40" y="232.05" fill="#1e1e1e"><tspan font-size="10.1">1.3</tspan></text>
<text x="474.99" y="314.20" fill="#1e1e1e"><tspan font-size="9.8">10</tspan></text>
<text x="485.81" y="310.50" fill="#1e1e1e"><tspan font-size="6.9">1</tspan></text>
<text x="593.63" y="314.20" fill="#1e1e1e"><tspan font-size="9.8">10</tspan></text>
<text x="604.63" y="310.50" fill="#1e1e1e"><tspan font-size="6.9">2</tspan></text>
<text x="492.16" y="9.85" textLength="6.72" lengthAdjust="spacingAndGlyphs" fill="#1e1e1e"><tspan font-style="italic" font-size="11.2">F</tspan></text>
<text x="498.42" y="13.50" fill="#1e1e1e"><tspan font-size="7.6">2</tspan></text>
<text x="500.69" y="3.90" fill="#1e1e1e"><tspan font-style="italic" font-size="7.6">p</tspan></text>
<text x="509.39" y="9.70" textLength="21.11" lengthAdjust="spacingAndGlyphs" fill="#1e1e1e"><tspan font-size="11.2">NC,</tspan></text>
<text x="534.94" y="9.70" textLength="5.44" lengthAdjust="spacingAndGlyphs" fill="#1e1e1e"><tspan font-style="italic" font-size="11.2">x</tspan></text>
<path d="M545.40,5.25h8.8M545.40,7.95h8.8" stroke="#1e1e1e" stroke-width="0.7"/>
<text x="558.44" y="9.90" textLength="12.61" lengthAdjust="spacingAndGlyphs" fill="#1e1e1e"><tspan font-size="11.2">10</tspan></text>
<path d="M571.80,3.0h5.3" stroke="#1e1e1e" stroke-width="0.6"/>
<text x="577.93" y="5.90" textLength="5.16" lengthAdjust="spacingAndGlyphs" fill="#1e1e1e"><tspan font-size="7.4">5</tspan></text>
<text x="514.10" y="326.30" textLength="7.83" lengthAdjust="spacingAndGlyphs" fill="#1e1e1e"><tspan font-style="italic" font-size="10.3">Q</tspan></text>
<text x="525.82" y="326.30" textLength="24.36" lengthAdjust="spacingAndGlyphs" fill="#1e1e1e"><tspan font-size="10.3">[GeV]</tspan></text>
<g transform="translate(13.10,73.50) rotate(-90)">
<text x="-5.71" y="0.00" fill="#1e1e1e"><tspan font-style="italic" font-size="10.0">F</tspan></text>
<text x="-0.96" y="2.70" fill="#1e1e1e"><tspan font-size="7.2">2</tspan></text>
<text x="1.76" y="-5.50" fill="#1e1e1e"><tspan font-style="italic" font-size="6.4">p</tspan></text>
</g>
<g transform="translate(6.90,177.80) rotate(-90)">
<text x="-12.14" y="0.00" textLength="23.87" lengthAdjust="spacingAndGlyphs" fill="#1e1e1e"><tspan font-size="10.0">Ratio</tspan></text>
</g>
<g transform="translate(6.90,263.95) rotate(-90)">
<text x="-12.14" y="0.00" textLength="23.87" lengthAdjust="spacingAndGlyphs" fill="#1e1e1e"><tspan font-size="10.0">Ratio</tspan></text>
</g>
<g transform="translate(360.40,73.50) rotate(-90)">
<text x="-5.71" y="0.00" fill="#1e1e1e"><tspan font-style="italic" font-size="10.0">F</tspan></text>
<text x="-0.96" y="2.70" fill="#1e1e1e"><tspan font-size="7.2">2</tspan></text>
<text x="1.76" y="-5.50" fill="#1e1e1e"><tspan font-style="italic" font-size="6.4">p</tspan></text>
</g>
<g transform="translate(359.40,177.80) rotate(-90)">
<text x="-12.14" y="0.00" textLength="23.87" lengthAdjust="spacingAndGlyphs" fill="#1e1e1e"><tspan font-size="10.0">Ratio</tspan></text>
</g>
<g transform="translate(359.40,263.95) rotate(-90)">
<text x="-12.14" y="0.00" textLength="23.87" lengthAdjust="spacingAndGlyphs" fill="#1e1e1e"><tspan font-size="10.0">Ratio</tspan></text>
</g>
</g>
</svg>
</body></html>
